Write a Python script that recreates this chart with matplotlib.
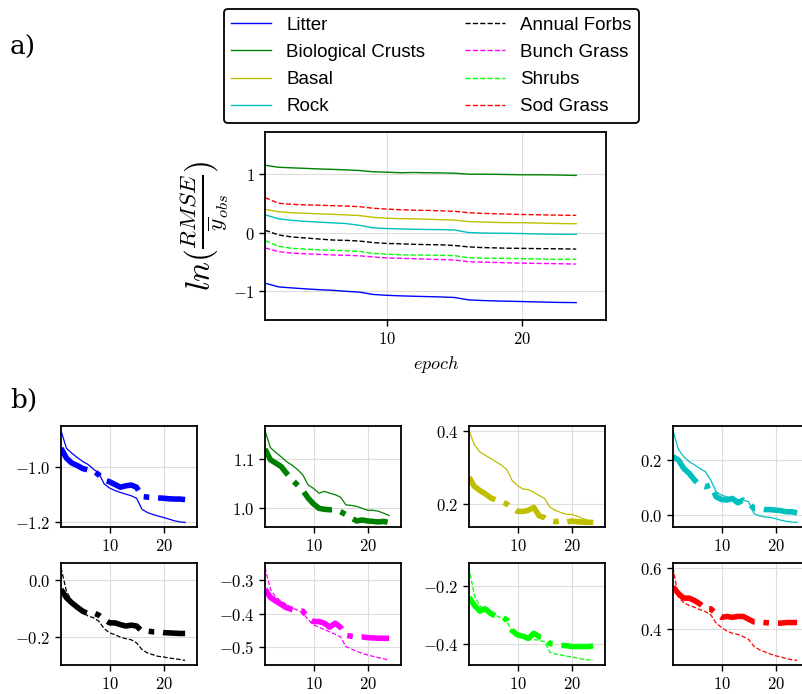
import numpy as np
import matplotlib
matplotlib.use("Agg")
import matplotlib.pyplot as plt
from matplotlib.ticker import MultipleLocator, FuncFormatter

plt.rcParams['mathtext.fontset'] = 'cm'

epochs = list(range(1, 25))

names = ["Litter", "Biological Crusts", "Basal", "Rock",
         "Annual Forbs", "Bunch Grass", "Shrubs", "Sod Grass"]
colors = ["b", "g", "y", "c", "k", "magenta", "lime", "r"]
styles = ["-", "-", "-", "-", "--", "--", "--", "--"]

litter = [-0.867, -0.931, -0.949, -0.965, -0.979, -0.990, -1.007, -1.022, -1.061, -1.076, -1.085, -1.092,
          -1.098, -1.104, -1.113, -1.153, -1.165, -1.172, -1.178, -1.183, -1.189, -1.195, -1.199, -1.201]
crusts = [1.159, 1.124, 1.114, 1.105, 1.095, 1.088, 1.079, 1.068, 1.047, 1.040, 1.030, 1.034,
          1.030, 1.027, 1.022, 1.006, 1.005, 1.003, 0.999, 0.995, 0.995, 0.993, 0.989, 0.984]
basal = [0.400, 0.361, 0.342, 0.333, 0.324, 0.315, 0.306, 0.294, 0.264, 0.250, 0.241, 0.239,
         0.232, 0.223, 0.216, 0.191, 0.183, 0.177, 0.172, 0.172, 0.167, 0.161, 0.156, 0.154]
rock = [0.308, 0.239, 0.212, 0.194, 0.182, 0.169, 0.157, 0.126, 0.083, 0.071, 0.065, 0.059,
        0.055, 0.053, 0.047, 0.004, -0.005, -0.009, -0.011, -0.015, -0.021, -0.025, -0.028, -0.029]
forbs = [0.043, -0.039, -0.074, -0.091, -0.109, -0.126, -0.132, -0.144, -0.170, -0.185, -0.191, -0.200,
         -0.205, -0.209, -0.220, -0.243, -0.255, -0.261, -0.267, -0.269, -0.273, -0.275, -0.278, -0.281]
bunch = [-0.262, -0.326, -0.351, -0.362, -0.372, -0.382, -0.389, -0.397, -0.418, -0.433, -0.440, -0.447,
         -0.454, -0.461, -0.469, -0.498, -0.505, -0.512, -0.518, -0.523, -0.527, -0.531, -0.534, -0.539]
shrubs = [-0.136, -0.233, -0.269, -0.281, -0.295, -0.302, -0.311, -0.323, -0.355, -0.370, -0.379, -0.383,
          -0.386, -0.388, -0.394, -0.430, -0.436, -0.439, -0.443, -0.446, -0.450, -0.454, -0.456, -0.458]
sod = [0.602, 0.506, 0.487, 0.478, 0.472, 0.464, 0.458, 0.447, 0.420, 0.406, 0.394, 0.387,
       0.383, 0.376, 0.367, 0.344, 0.333, 0.326, 0.319, 0.313, 0.309, 0.304, 0.300, 0.298]

litter_b = [-0.931, -0.967, -0.985, -0.994, -1.005, -1.010, -1.013, -1.028, -1.048, -1.053, -1.063, -1.073,
            -1.068, -1.065, -1.073, -1.107, -1.109, -1.110, -1.112, -1.113, -1.115, -1.116, -1.116, -1.118]
crusts_b = [1.121, 1.099, 1.092, 1.085, 1.071, 1.058, 1.047, 1.036, 1.020, 1.008, 0.999, 0.997,
            0.996, 0.997, 0.992, 0.986, 0.979, 0.973, 0.975, 0.973, 0.972, 0.971, 0.972, 0.970]
basal_b = [0.273, 0.248, 0.237, 0.228, 0.217, 0.211, 0.207, 0.200, 0.189, 0.180, 0.180, 0.183,
           0.191, 0.168, 0.163, 0.154, 0.152, 0.154, 0.150, 0.154, 0.152, 0.151, 0.150, 0.150]
rock_b = [0.212, 0.200, 0.169, 0.151, 0.126, 0.108, 0.102, 0.108, 0.065, 0.055, 0.053, 0.059,
          0.043, 0.053, 0.043, 0.022, 0.022, 0.018, 0.018, 0.016, 0.014, 0.010, 0.010, 0.006]
forbs_b = [-0.033, -0.062, -0.080, -0.095, -0.109, -0.118, -0.115, -0.123, -0.138, -0.150, -0.150, -0.156,
           -0.161, -0.158, -0.161, -0.179, -0.179, -0.181, -0.181, -0.184, -0.185, -0.186, -0.187, -0.187]
bunch_b = [-0.326, -0.351, -0.362, -0.372, -0.382, -0.387, -0.392, -0.392, -0.413, -0.423, -0.423, -0.428,
           -0.440, -0.428, -0.440, -0.464, -0.467, -0.469, -0.469, -0.471, -0.472, -0.473, -0.473, -0.473]
shrubs_b = [-0.239, -0.267, -0.287, -0.279, -0.295, -0.305, -0.307, -0.317, -0.355, -0.370, -0.374, -0.382,
            -0.364, -0.376, -0.379, -0.400, -0.402, -0.406, -0.407, -0.410, -0.410, -0.410, -0.410, -0.408]
sod_b = [0.539, 0.517, 0.502, 0.502, 0.494, 0.483, 0.467, 0.467, 0.450, 0.439, 0.442, 0.439,
         0.442, 0.442, 0.433, 0.424, 0.424, 0.422, 0.420, 0.420, 0.420, 0.422, 0.422, 0.422]

thin = [litter, crusts, basal, rock, forbs, bunch, shrubs, sod]
thick = [litter_b, crusts_b, basal_b, rock_b, forbs_b, bunch_b, shrubs_b, sod_b]
ysteps = [0.2, 0.1, 0.2, 0.2, 0.2, 0.1, 0.2, 0.2]

W, H = 802, 694
fig = plt.figure(figsize=(W / 100, H / 100), dpi=100)


def ax_at(l, t, r, b):
    return fig.add_axes([l / W, 1 - b / H, (r - l) / W, (b - t) / H])


def style(ax, fs=12):
    ax.grid(True, color='#dddddd', lw=0.8)
    ax.set_axisbelow(True)
    for s in ax.spines.values():
        s.set_linewidth(1.3)
        s.set_color('black')
    ax.tick_params(labelsize=fs, length=4.5, width=1, direction='out', pad=3)


def fmt1(v, pos):
    return r'$%.1f$' % v


def fmt0(v, pos):
    return r'$%d$' % round(v)


# top panel
ax = ax_at(265, 132, 606, 320)
for n, c, ls, y in zip(names, colors, styles, thin):
    ax.plot(epochs, y, color=c, ls=ls, lw=1.0, label=n)
ax.set_xlim(1, 26.2)
ax.set_ylim(-1.5, 1.73)
ax.xaxis.set_major_locator(MultipleLocator(10))
ax.yaxis.set_major_locator(MultipleLocator(1))
ax.xaxis.set_major_formatter(FuncFormatter(fmt0))
ax.yaxis.set_major_formatter(FuncFormatter(fmt0))
style(ax)
ax.set_xlabel(r'$epoch$', fontsize=13)
ax.set_ylabel(r'$ln(\frac{RMSE}{\overline{y}_{obs}})$', fontsize=24, labelpad=2)

handles, labels = ax.get_legend_handles_labels()
leg = fig.legend(handles, labels, ncol=2, loc='upper center',
                 bbox_to_anchor=(431.5 / W, 1 - 9 / H),
                 prop={'family': 'Liberation Sans', 'size': 13.5},
                 handlelength=2.13, handletextpad=0.8, columnspacing=2.13,
                 labelspacing=0.54, borderpad=0.4, borderaxespad=0,
                 frameon=True, fancybox=True, framealpha=1, edgecolor='black')
leg.get_frame().set_linewidth(1.3)

fig.text(10 / W, 1 - 47 / H, 'a)', fontsize=19, family='DejaVu Serif', va='center')
fig.text(10 / W, 1 - 400 / H, 'b)', fontsize=19, family='DejaVu Serif', va='center')

lefts = [61, 265, 469, 673]
rows = [(426, 527), (563, 665)]
for i in range(8):
    r, cidx = divmod(i, 4)
    t, b = rows[r]
    l = lefts[cidx]
    a = ax_at(l, t, l + 136, b)
    a.plot(epochs, thin[i], color=colors[i], ls=styles[i], lw=0.9)
    a.plot(epochs, thick[i], color=colors[i], ls='-.', lw=4)
    a.set_xlim(1, 26.2)
    a.xaxis.set_major_locator(MultipleLocator(10))
    a.yaxis.set_major_locator(MultipleLocator(ysteps[i]))
    a.xaxis.set_major_formatter(FuncFormatter(fmt0))
    a.yaxis.set_major_formatter(FuncFormatter(fmt1))
    style(a)

fig.savefig('out.png', dpi=100)
